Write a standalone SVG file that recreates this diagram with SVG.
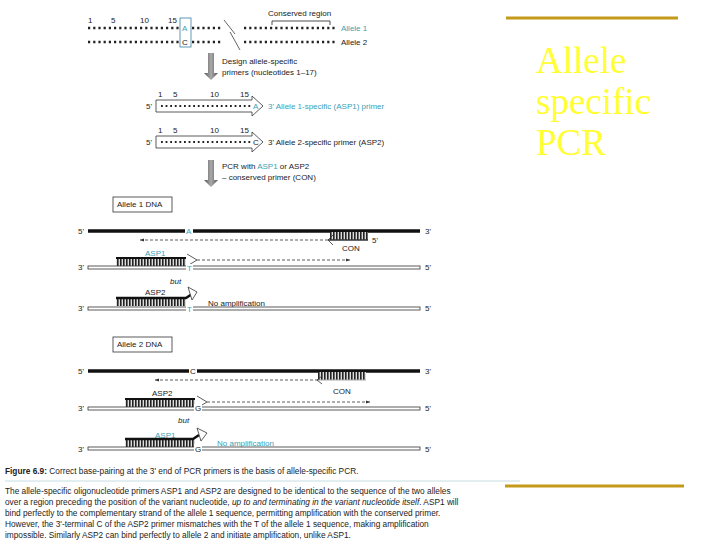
<svg xmlns="http://www.w3.org/2000/svg" width="720" height="540" viewBox="0 0 720 540">
<defs>
<style>
text{font-family:"Liberation Sans",Arial,sans-serif;font-size:8px;fill:#222}
.t{fill:#3a9fb5}
.dots{stroke:#222;stroke-width:2.4;stroke-dasharray:2.2 3}
.pd{stroke:#222;stroke-width:2;stroke-dasharray:1.8 2.8}
.dash{stroke:#333;stroke-width:0.8;stroke-dasharray:3 2;fill:none}
.top{stroke:#111;stroke-width:3.5}
.bot{fill:#fff;stroke:#333;stroke-width:0.8}
.gap{fill:#fff}
.title{font-family:"Liberation Serif","Times New Roman",serif;font-size:37px;fill:#ffff33}
.cap{font-size:8.3px}
</style>
<pattern id="h" width="3" height="8" patternUnits="userSpaceOnUse"><rect width="3" height="8" fill="#ddd"/><rect width="1.6" height="8" fill="#222"/></pattern>
<marker id="ah" markerWidth="6" markerHeight="6" refX="5" refY="3" orient="auto"><path d="M0,1 L5,3 L0,5 Z" fill="#333"/></marker>
<linearGradient id="g" x1="0" x2="1"><stop offset="0" stop-color="#555"/><stop offset="0.5" stop-color="#aaa"/><stop offset="1" stop-color="#555"/></linearGradient>
</defs>
<rect width="720" height="540" fill="#fff"/>
<g id="title">
<line x1="506" y1="18" x2="678" y2="18" stroke="#c49a1a" stroke-width="3"/>
<text class="title" x="536" y="73">Allele</text>
<text class="title" x="536" y="114">specific</text>
<text class="title" x="536" y="155">PCR</text>
<line x1="505" y1="486" x2="684" y2="486" stroke="#c49a1a" stroke-width="3"/>
</g>
<g id="alleles">
<text x="88" y="23">1</text><text x="111" y="23">5</text><text x="140" y="23">10</text><text x="168" y="23">15</text>
<line class="dots" x1="88" y1="28" x2="337" y2="28"/>
<line class="dots" x1="88" y1="42" x2="337" y2="42"/>
<rect x="180" y="18" width="11" height="29" fill="#fff" stroke="#3a7fa0" stroke-width="0.8"/>
<text class="t" x="182" y="31">A</text><text x="182" y="45">C</text>
<rect x="222" y="20" width="20" height="30" class="gap"/>
<line x1="224" y1="20" x2="235" y2="34" stroke="#222" stroke-width="0.7"/>
<line x1="230" y1="32" x2="240" y2="50" stroke="#222" stroke-width="0.7"/>
<text x="268" y="16">Conserved region</text>
<path d="M272,25 V21 H330 V25" fill="none" stroke="#222" stroke-width="0.8"/>
<text class="t" x="341" y="31">Allele 1</text>
<text x="341" y="45">Allele 2</text>
</g>
<g id="step1">
<path d="M208,53 H214 V73 H218 L211,80 L204,73 H208 Z" fill="url(#g)"/>
<text x="222" y="64">Design allele-specific</text>
<text x="222" y="75">primers (nucleotides 1–17)</text>
</g>
<g id="asp1-primer">
<text x="158" y="97">1</text><text x="173" y="97">5</text><text x="210" y="97">10</text><text x="240" y="97">15</text>
<text x="146" y="109">5'</text>
<path d="M156,100 H252 V96 L263,106 L252,116 V112 H156 Z" fill="#fff" stroke="#333" stroke-width="0.8"/>
<line class="pd" x1="161" y1="106" x2="252" y2="106"/>
<text class="t" x="253" y="109">A</text>
<text class="t" x="268" y="109">3' Allele 1-specific (ASP1) primer</text>
</g>
<g id="asp2-primer">
<text x="158" y="133">1</text><text x="173" y="133">5</text><text x="210" y="133">10</text><text x="240" y="133">15</text>
<text x="146" y="145">5'</text>
<path d="M156,136 H252 V132 L263,142 L252,152 V148 H156 Z" fill="#fff" stroke="#333" stroke-width="0.8"/>
<line class="pd" x1="161" y1="142" x2="252" y2="142"/>
<text x="253" y="145">C</text>
<text x="268" y="145">3' Allele 2-specific primer (ASP2)</text>
</g>
<g id="step2">
<path d="M208,160 H214 V180 H218 L211,187 L204,180 H208 Z" fill="url(#g)"/>
<text x="222" y="169">PCR with <tspan class="t">ASP1</tspan> or ASP2</text>
<text x="222" y="180">– conserved primer (CON)</text>
</g>
<g id="allele1">
<rect x="113" y="197" width="59" height="15" fill="#fff" stroke="#333" stroke-width="0.8"/>
<text x="117" y="207">Allele 1 DNA</text>
<text x="78" y="234">5'</text>
<line class="top" x1="88" y1="231" x2="420" y2="231"/>
<rect x="185" y="227" width="8" height="8" class="gap"/>
<text class="t" x="186" y="234">A</text>
<text x="425" y="234">3'</text>
<rect x="330" y="232" width="38" height="8" fill="url(#h)"/>
<line x1="328" y1="240" x2="368" y2="240" stroke="#333" stroke-width="1.5"/>
<path d="M333,235 L328,240 L333,245" fill="none" stroke="#333" stroke-width="0.8"/>
<text x="372" y="243">5'</text>
<text x="342" y="251">CON</text>
<text class="t" x="145" y="256">ASP1</text>
<rect x="116" y="258" width="70" height="8" fill="url(#h)"/>
<line x1="116" y1="258" x2="186" y2="258" stroke="#111" stroke-width="2"/>
<path d="M187,254 L197,260 L187,266" fill="#fff" stroke="#333" stroke-width="0.8"/>
<text x="78" y="270">3'</text>
<rect x="88" y="266" width="332" height="3" class="bot"/>
<rect x="186" y="264" width="7" height="8" class="gap"/>
<text class="t" x="187" y="271">T</text>
<text x="425" y="270">5'</text>
<text x="170" y="284" font-style="italic">but</text>
<text x="145" y="295">ASP2</text>
<rect x="116" y="298" width="70" height="8" fill="url(#h)"/>
<path d="M116,298 H186 L192,294" fill="none" stroke="#111" stroke-width="2.5"/>
<path d="M188,287 L197,292 L192,300 Z" fill="#fff" stroke="#333" stroke-width="0.8"/>
<text x="208" y="306">No amplification</text>
<text x="78" y="311">3'</text>
<rect x="88" y="307" width="332" height="3" class="bot"/>
<rect x="186" y="305" width="7" height="8" class="gap"/>
<text class="t" x="187" y="312">T</text>
<text x="425" y="311">5'</text>
</g>
<g id="allele2">
<rect x="113" y="337" width="59" height="15" fill="#fff" stroke="#333" stroke-width="0.8"/>
<text x="117" y="347">Allele 2 DNA</text>
<text x="78" y="374">5'</text>
<line class="top" x1="88" y1="371" x2="420" y2="371"/>
<rect x="189" y="367" width="8" height="8" class="gap"/>
<text x="190" y="374">C</text>
<text x="425" y="374">3'</text>
<rect x="318" y="372" width="48" height="8" fill="url(#h)"/>
<line x1="318" y1="380" x2="366" y2="380" stroke="#aaa" stroke-width="1"/>
<path d="M322,376 L317,380 L322,384" fill="none" stroke="#333" stroke-width="0.8"/>
<text x="333" y="394">CON</text>
<text x="152" y="396">ASP2</text>
<rect x="125" y="399" width="70" height="8" fill="url(#h)"/>
<line x1="125" y1="399" x2="195" y2="399" stroke="#111" stroke-width="2"/>
<path d="M197,396 L207,402 L197,408" fill="#fff" stroke="#333" stroke-width="0.8"/>
<text x="78" y="411">3'</text>
<rect x="88" y="407" width="332" height="3" class="bot"/>
<rect x="194" y="404" width="8" height="8" class="gap"/>
<text x="195" y="411">G</text>
<text x="425" y="411">5'</text>
<text x="178" y="423" font-style="italic">but</text>
<text class="t" x="155" y="438">ASP1</text>
<rect x="125" y="439" width="70" height="8" fill="url(#h)"/>
<path d="M125,439 H193 L199,435" fill="none" stroke="#111" stroke-width="2.5"/>
<path d="M197,428 L207,433 L201,441 Z" fill="#fff" stroke="#333" stroke-width="0.8"/>
<text class="t" x="217" y="446">No amplification</text>
<text x="78" y="452">3'</text>
<rect x="88" y="447" width="332" height="3" class="bot"/>
<rect x="194" y="444" width="8" height="8" class="gap"/>
<text x="195" y="452">G</text>
<text x="425" y="452">5'</text>
</g>
<g id="connectors">
<line class="dash" x1="328" y1="240" x2="140" y2="240" marker-end="url(#ah)"/>
<line class="dash" x1="197" y1="260" x2="350" y2="260" marker-end="url(#ah)"/>
<line class="dash" x1="318" y1="380" x2="155" y2="380" marker-end="url(#ah)"/>
<line class="dash" x1="207" y1="402" x2="370" y2="402" marker-end="url(#ah)"/>
</g>
<g id="caption">
<text x="5" y="474" class="cap"><tspan font-weight="bold">Figure 6.9:</tspan> Correct base-pairing at the 3' end of PCR primers is the basis of allele-specific PCR.</text>
<line x1="5" y1="481" x2="520" y2="481" stroke="#b8d4dc" stroke-width="0.8"/>
<text x="5" y="494" class="cap">The allele-specific oligonucleotide primers ASP1 and ASP2 are designed to be identical to the sequence of the two alleles</text>
<text x="5" y="505" class="cap">over a region preceding the position of the variant nucleotide, <tspan font-style="italic">up to and terminating in the variant nucleotide itself</tspan>. ASP1 will</text>
<text x="5" y="516" class="cap">bind perfectly to the complementary strand of the allele 1 sequence, permitting amplification with the conserved primer.</text>
<text x="5" y="527" class="cap">However, the 3'-terminal C of the ASP2 primer mismatches with the T of the allele 1 sequence, making amplification</text>
<text x="5" y="538" class="cap">impossible. Similarly ASP2 can bind perfectly to allele 2 and initiate amplification, unlike ASP1.</text>
</g>
</svg>
